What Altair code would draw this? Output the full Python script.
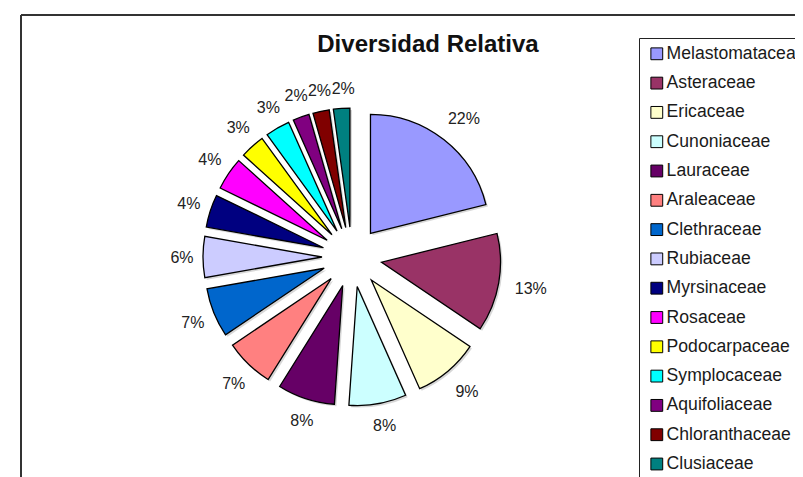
import altair as alt
import pandas as pd

# Families, in the order they appear (clockwise from 12 o'clock)
families = ["Melastomataceae", "Asteraceae", "Ericaceae", "Cunoniaceae", "Lauraceae",
            "Araleaceae", "Clethraceae", "Rubiaceae", "Myrsinaceae", "Rosaceae",
            "Podocarpaceae", "Symplocaceae", "Aquifoliaceae", "Chloranthaceae", "Clusiaceae"]
# Slice sizes (species per family)
species = [19, 12, 8, 7, 7, 6, 6, 5, 4, 4, 3, 3, 2, 2, 2]
# Percentage labels as printed on the chart
pct_labels = ["22%", "13%", "9%", "8%", "8%", "7%", "7%", "6%", "4%", "4%",
              "3%", "3%", "2%", "2%", "2%"]
colors = ["#9999FF", "#993366", "#FFFFCC", "#CCFFFF", "#660066", "#FF8080", "#0066CC",
          "#CCCCFF", "#000080", "#FF00FF", "#FFFF00", "#00FFFF", "#800080", "#800000", "#008080"]
title_text = ["Diversidad Relativa"]

W, H = 787, 469
CX, CY = 344, 249
EXPLODE = 30
R = 119
LCX, LCY = 347, 250     # label ring centre
LABEL_GAP = 161.5       # distance from centre to the near edge of a label box
LABEL_FS = 16
FONT = "Liberation Sans"

df = pd.DataFrame({"familia": families, "n": species, "label": pct_labels,
                   "orden": list(range(len(families)))})

xscale = alt.Scale(domain=[0, W], range=[0, W], nice=False, zero=False)
yscale = alt.Scale(domain=[0, H], range=[0, H], nice=False, zero=False)
tscale = alt.Scale(domain=[0, 1], range=[0, 6.283185307179586])

base = alt.Chart(df).transform_window(
    cum="sum(n)", sort=[alt.SortField("orden")], frame=[None, 0]
).transform_joinaggregate(
    total="sum(n)"
).transform_calculate(
    t0="(datum.cum - datum.n) / datum.total",
    t1="datum.cum / datum.total",
    mid="(datum.cum - datum.n / 2) / datum.total * 2 * PI",
    hw=f"((length(datum.label) - 1) * 0.556 + 0.889) * {LABEL_FS} / 2",
).transform_calculate(
    cx=f"{CX} + {EXPLODE} * sin(datum.mid)",
    cy=f"{CY} - {EXPLODE} * cos(datum.mid)",
    sx=f"{CX} + {EXPLODE} * sin(datum.mid) + 2",
    sy=f"{CY} - {EXPLODE} * cos(datum.mid) + 2",
    ld=f"{LABEL_GAP} + datum.hw * abs(sin(datum.mid)) + 7 * abs(cos(datum.mid))",
).transform_calculate(
    lx=f"{LCX} + datum.ld * sin(datum.mid)",
    ly=f"{LCY} - datum.ld * cos(datum.mid)",
)

shadow = base.mark_arc(radius=R, color="#7a7a7a", opacity=0.3).encode(
    x=alt.X("sx:Q", scale=xscale, axis=None),
    y=alt.Y("sy:Q", scale=yscale, axis=None),
    theta=alt.Theta("t0:Q", scale=tscale, stack=False),
    theta2="t1:Q",
)

arcs = base.mark_arc(radius=R, stroke="black", strokeWidth=1.3).encode(
    x=alt.X("cx:Q", scale=xscale, axis=None),
    y=alt.Y("cy:Q", scale=yscale, axis=None),
    theta=alt.Theta("t0:Q", scale=tscale, stack=False),
    theta2="t1:Q",
    color=alt.Color(
        "familia:N",
        scale=alt.Scale(domain=families, range=colors),
        sort=families,
        legend=alt.Legend(
            title=None, orient="none", legendX=631, legendY=30,
            strokeColor="#222", padding=7, symbolOffset=2,
            symbolType="square", symbolSize=140,
            symbolStrokeColor="black", symbolStrokeWidth=1, symbolOpacity=1,
            labelFontSize=17.6, labelFont=FONT, labelColor="#1a1a1a", labelLimit=400,
            rowPadding=10.3, labelOffset=1,
        ),
    ),
)

labels = base.mark_text(fontSize=LABEL_FS, font=FONT, color="#222").encode(
    x=alt.X("lx:Q", scale=xscale, axis=None),
    y=alt.Y("ly:Q", scale=yscale, axis=None),
    text="label:N",
)

title = alt.Chart(pd.DataFrame({"t": title_text})).mark_text(
    fontSize=24, font=FONT, fontWeight="bold", color="#111"
).encode(x=alt.value(420), y=alt.value(37), text="t:N")

frame_v = alt.Chart(pd.DataFrame({"t": title_text})).mark_rule(color="#333", strokeWidth=2).encode(
    x=alt.value(13), y=alt.value(7), y2=alt.value(H + 10)
)
frame_h = alt.Chart(pd.DataFrame({"t": title_text})).mark_rule(color="#333", strokeWidth=2).encode(
    x=alt.value(13), x2=alt.value(W + 10), y=alt.value(7)
)

chart = alt.layer(frame_v, frame_h, shadow, arcs, labels, title).properties(
    width=W, height=H, autosize="none", padding=0
).configure_view(stroke=None)

chart.save("out.html", embed_options={"renderer": "svg", "actions": False})
